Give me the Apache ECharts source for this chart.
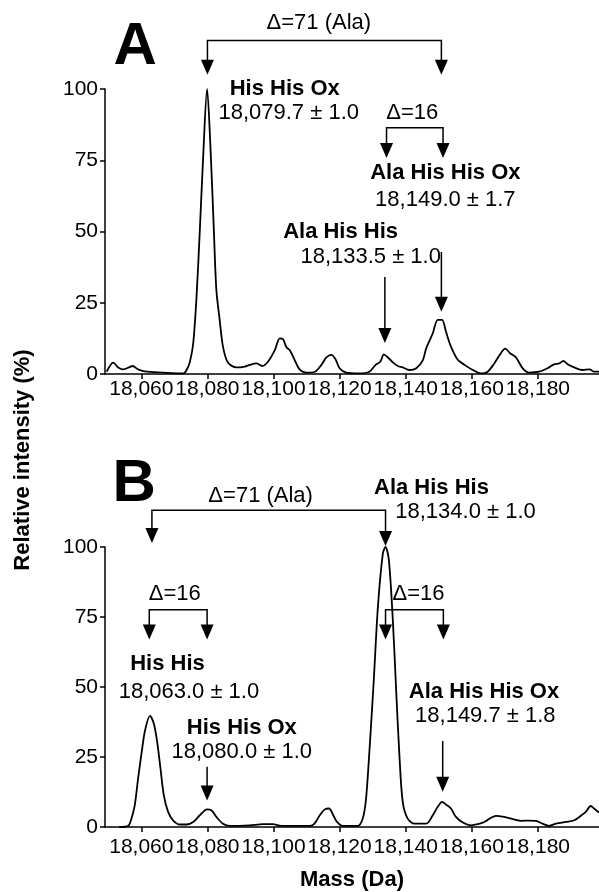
<!DOCTYPE html>
<html>
<head>
<meta charset="utf-8">
<script src="https://cdn.jsdelivr.net/npm/echarts@6/dist/echarts.min.js"></script>
<style>
  html, body { margin: 0; padding: 0; background: #fff; }
  #main { width: 599px; height: 892px; }
</style>
</head>
<body>
<div id="main"></div>
<script>
// Panel A spectrum (mass in Da, relative intensity in %)
const massA = [18049.5, 18051.5, 18053, 18054.5, 18057.4, 18059, 18061, 18066.6, 18072.7, 18073.7,
  18074.7, 18075.7, 18076.7, 18077.7, 18078.7, 18079.9, 18080.9, 18081.9, 18082.7, 18083.7,
  18084.7, 18086.2, 18088.8, 18091.3, 18092.8, 18094.8, 18096.6, 18098.3, 18100.4, 18101.9,
  18102.9, 18103.9, 18104.9, 18106.4, 18107.9, 18109.9, 18112.4, 18114.5, 18116, 18117.5,
  18118.8, 18120, 18122, 18126, 18129, 18130.9, 18132.3, 18133.4, 18134.6, 18135.9,
  18137.6, 18139.1, 18141.1, 18143.2, 18145.2, 18146.2, 18148.2, 18149.7, 18151, 18152.2,
  18153.7, 18155.7, 18157.8, 18160.3, 18162.8, 18164.8, 18166.8, 18168.8, 18170.1, 18171.6,
  18173.4, 18175.4, 18177.4, 18180.4, 18182.9, 18184.9, 18186.5, 18187.7, 18189, 18191,
  18193.5, 18195.7, 18197, 18198.5];
const intA = [0.8, 4.0, 2.3, 1.6, 2.8, 1.6, 0.9, 0.5, 0.2, 1.4,
  4.3, 10.8, 27, 50.5, 76, 100, 80, 51.7, 29.5, 19,
  9.6, 4, 2.3, 2.6, 3.2, 3.7, 2.8, 4.3, 8.4, 12.5,
  12.2, 9.4, 8.4, 4.9, 1.6, 0.5, 0.7, 3.2, 5.8, 6.7,
  5.1, 2, 0.5, 0.2, 0.8, 3.2, 4.3, 6.9, 5.8, 4.3,
  2.8, 2.3, 1.4, 2, 4.9, 9, 14.3, 19, 19, 14.8,
  9.6, 5.1, 3.2, 1.4, 0.2, 0.8, 3.7, 7.3, 8.9, 7.3,
  5.8, 2, 0.5, 0.8, 2, 3.4, 3.7, 4.6, 3.4, 2.3,
  1.4, 1.6, 0.8, 0.8];

// Panel B spectrum
const massB = [18053.3, 18056, 18057, 18058, 18059, 18060.1, 18061.1, 18062.6, 18063.8, 18064.8,
  18065.8, 18066.8, 18068.1, 18069.6, 18071.7, 18073.7, 18075.7, 18077.7, 18079.9, 18081.2,
  18082.7, 18084.7, 18086.8, 18092.8, 18096.8, 18099.8, 18102.4, 18111, 18112.4, 18114,
  18115.5, 18116.8, 18118, 18119.2, 18121, 18125.5, 18127, 18128, 18129, 18130.3,
  18131.6, 18133.1, 18133.9, 18134.9, 18136.1, 18137.1, 18138.1, 18139.1, 18140.6, 18142.7,
  18146.2, 18148.2, 18149.7, 18151, 18152.2, 18153.7, 18155.2, 18157.3, 18159.8, 18161.8,
  18163.8, 18165.8, 18167.3, 18169.8, 18172.4, 18174.9, 18177.4, 18179.4, 18181.4, 18183.4,
  18185.5, 18188.5, 18191, 18193, 18194.5, 18196, 18197, 18198.5];
const intB = [0, 0.4, 3, 7.7, 17.2, 26.7, 34.4, 39.7, 36.8, 30.3,
  20.8, 11.3, 5.4, 2.4, 0.9, 0.9, 1.8, 4.2, 6.3, 6,
  3.6, 1.2, 0.4, 0.6, 1, 1, 0.4, 0.4, 1.2, 4.2,
  6.3, 6.6, 4.4, 1.8, 0.4, 0.4, 3, 10.1, 26.7, 51.6,
  78.8, 97.8, 100, 95.4, 74, 49.2, 25.5, 9, 3, 1.2,
  1.2, 4.2, 7.2, 9, 8, 6.6, 3.6, 1.6, 0.6, 1,
  1.8, 3.3, 4, 3.6, 2.8, 2.2, 2.3, 2.2, 1.2, 0.4,
  1.2, 1.8, 2.4, 4, 5.4, 7.5, 6.6, 5.2];

const massTicks = [18060, 18080, 18100, 18120, 18140, 18160, 18180];

// Annotations in data coordinates: [grid, mass, intensity, text, bold]
const texts = [
  [0, 18113.7, 123.2, 'Δ=71 (Ala)', false],
  [0, 18103.4, 100, 'His His Ox', true],
  [0, 18104.6, 91.6, '18,079.7 ± 1.0', false],
  [0, 18142, 91.6, 'Δ=16', false],
  [0, 18152, 70.5, 'Ala His His Ox', true],
  [0, 18152, 61, '18,149.0 ± 1.7', false],
  [0, 18120.3, 49.8, 'Ala His His', true],
  [0, 18129.4, 41, '18,133.5 ± 1.0', false],
  [1, 18096.1, 118.3, 'Δ=71 (Ala)', false],
  [1, 18147.8, 121, 'Ala His His', true],
  [1, 18158.1, 112.4, '18,134.0 ± 1.0', false],
  [1, 18070.1, 83.3, 'Δ=16', false],
  [1, 18143.9, 83.3, 'Δ=16', false],
  [1, 18067.9, 58.1, 'His His', true],
  [1, 18074.4, 48.1, '18,063.0 ± 1.0', false],
  [1, 18090.4, 35.3, 'His His Ox', true],
  [1, 18090.4, 26.8, '18,080.0 ± 1.0', false],
  [1, 18163.7, 48.1, 'Ala His His Ox', true],
  [1, 18164.1, 39.6, '18,149.7 ± 1.8', false]
];
// Panel letters: [grid, mass, intensity, letter]
const letters = [[0, 18058.1, 114.7, 'A'], [1, 18057.8, 122.4, 'B']];
// Single arrows: [grid, mass, fromIntensity, tipIntensity]
const arrows = [
  [0, 18133.7, 34, 10.9],
  [0, 18150.8, 42.8, 21.8],
  [1, 18079.9, 21.5, 9.5],
  [1, 18151.2, 30.7, 12.6]
];
// Brackets: [grid, mass1, mass2, barIntensity, tip1, tip2]
const brackets = [
  [0, 18080, 18150.8, 117, 105, 105],
  [0, 18134.2, 18151.3, 86.4, 75.8, 75.8],
  [1, 18063.2, 18133.9, 113.1, 101.4, 100.4],
  [1, 18062.4, 18079.9, 77.6, 67, 67],
  [1, 18133.9, 18151.4, 77.6, 67, 67]
];

const FONT = '"Liberation Sans", Arial, Helvetica, sans-serif';
const fmtMass = v => String(v).replace(/\B(?=(\d{3})+(?!\d))/g, ',');

function xAxisFor(gridIndex, margin, withName) {
  return {
    type: 'value', gridIndex, min: 18049, max: 18198.5,
    axisLine: { show: true, onZero: false, lineStyle: { color: '#000', width: 1.5 } },
    axisTick: { show: true, length: 5, customValues: massTicks, lineStyle: { color: '#000', width: 1.5 } },
    axisLabel: { customValues: massTicks, formatter: fmtMass, color: '#000', fontSize: 21, fontFamily: FONT, margin },
    splitLine: { show: false },
    name: withName ? 'Mass (Da)' : '',
    nameLocation: 'middle', nameGap: 42,
    nameTextStyle: { color: '#000', fontSize: 22, fontWeight: 'bold', fontFamily: FONT }
  };
}
function yAxisFor(gridIndex) {
  return {
    type: 'value', gridIndex, min: 0, max: 100, interval: 25,
    axisLine: { show: true, lineStyle: { color: '#000', width: 1.5 } },
    axisTick: { show: true, length: 5, lineStyle: { color: '#000', width: 1.5 } },
    axisLabel: { color: '#000', fontSize: 21, fontFamily: FONT, margin: 7 },
    splitLine: { show: false }
  };
}
function lineSeries(i, mass, vals) {
  return {
    type: 'line', xAxisIndex: i, yAxisIndex: i,
    data: mass.map((m, k) => [m, vals[k]]),
    showSymbol: false, smooth: 0.3, clip: false,
    lineStyle: { color: '#000', width: 1.8 }
  };
}

const chart = echarts.init(document.getElementById('main'));
chart.setOption({
  animation: false,
  backgroundColor: '#fff',
  grid: [
    { left: 105, right: 0, top: 89, height: 285 },
    { left: 105, right: 0, top: 547, height: 281.5 }
  ],
  xAxis: [xAxisFor(0, 5, false), xAxisFor(1, 10, true)],
  yAxis: [yAxisFor(0), yAxisFor(1)],
  series: [lineSeries(0, massA, intA), lineSeries(1, massB, intB)]
});

// Build annotation graphics from data coordinates
const px = (g, m, v) => chart.convertToPixel({ gridIndex: g }, [m, v]);
const HEAD_W = 13, HEAD_H = 15;
const elements = [];
function head(x, yTip) {
  elements.push({ type: 'polygon', shape: { points: [[x - HEAD_W / 2, yTip - HEAD_H], [x + HEAD_W / 2, yTip - HEAD_H], [x, yTip]] }, style: { fill: '#000' } });
}
arrows.forEach(([g, m, v1, v2]) => {
  const a = px(g, m, v1), b = px(g, m, v2);
  elements.push({ type: 'line', shape: { x1: a[0], y1: a[1], x2: b[0], y2: b[1] - HEAD_H + 1 }, style: { stroke: '#000', lineWidth: 1.5 } });
  head(b[0], b[1]);
});
brackets.forEach(([g, m1, m2, bar, t1, t2]) => {
  const p1 = px(g, m1, bar), p2 = px(g, m2, bar);
  const q1 = px(g, m1, t1), q2 = px(g, m2, t2);
  elements.push({ type: 'polyline', shape: { points: [[q1[0], q1[1] - HEAD_H + 1], p1, p2, [q2[0], q2[1] - HEAD_H + 1]] }, style: { stroke: '#000', lineWidth: 1.5, fill: null } });
  head(q1[0], q1[1]);
  head(q2[0], q2[1]);
});
texts.forEach(([g, m, v, t, bold]) => {
  const p = px(g, m, v);
  elements.push({ type: 'text', x: p[0], y: p[1], style: { text: t, fill: '#000', font: (bold ? 'bold ' : '') + '22px ' + FONT, align: 'center', verticalAlign: 'middle' } });
});
letters.forEach(([g, m, v, t]) => {
  const p = px(g, m, v);
  elements.push({ type: 'text', x: p[0], y: p[1], style: { text: t, fill: '#000', font: 'bold 60px ' + FONT, align: 'center', verticalAlign: 'middle' } });
});
elements.push({ type: 'text', x: 23, y: 460, rotation: Math.PI / 2, style: { text: 'Relative intensity (%)', fill: '#000', font: 'bold 22px ' + FONT, align: 'center', verticalAlign: 'middle' } });

chart.setOption({ graphic: elements });
</script>
</body>
</html>
